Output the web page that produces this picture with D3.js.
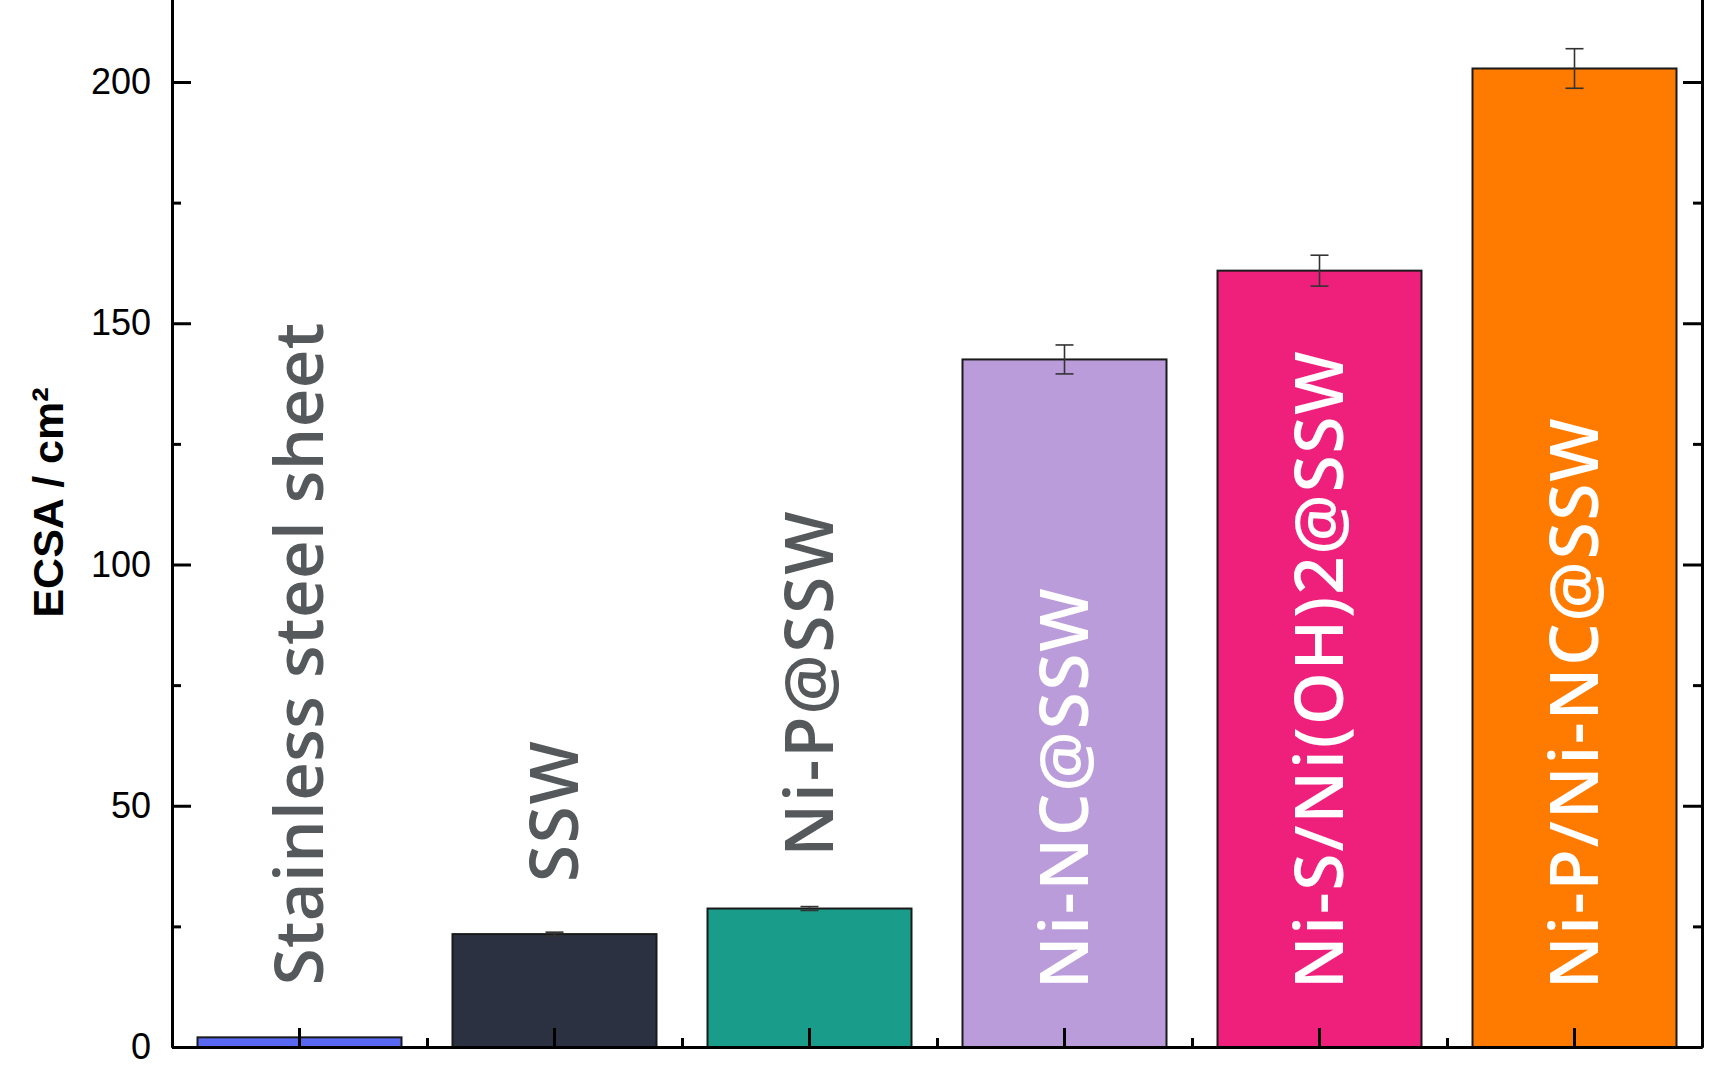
<!DOCTYPE html>
<html>
<head>
<meta charset="utf-8">
<script src="https://cdn.jsdelivr.net/npm/d3@7"></script>
<style>
  html, body { margin: 0; padding: 0; background: #fff; }
  svg { display: block; }
</style>
</head>
<body>
<svg id="chart" width="1736" height="1080"></svg>
<script>
// ---- data ----
const categories = ["Stainless steel sheet", "SSW", "Ni-P@SSW", "Ni-NC@SSW", "Ni-S/Ni(OH)2@SSW", "Ni-P/Ni-NC@SSW"];
const ecsaValues = [2.0, 23.4, 28.7, 142.5, 160.9, 202.8];
const ecsaErrors = [0, 0.4, 0.4, 3.0, 3.2, 4.1];
const barColors = ["#5868f2", "#2c3142", "#1a9c8a", "#bb9cdb", "#ef207b", "#ff7b00"];
const yMajorTicks = [0, 50, 100, 150, 200];
const yMinorTicks = [25, 75, 125, 175];
const yTitle = "ECSA / cm²";

// ---- layout ----
const W = 1736, H = 1080;
const left = 172, right = 1702, bottom = 1047;
const pxPerUnit = 4.825;
const yMax = 220;

const svg = d3.select("#chart");

const x = d3.scaleBand().domain(categories).range([left, right]).paddingInner(0.2).paddingOuter(0.1);
const y = d3.scaleLinear().domain([0, yMax]).range([bottom, bottom - yMax * pxPerUnit]);
const xEdge = d3.scaleLinear().domain([0, categories.length]).range([left, right]);

// bars
svg.append("g").selectAll("rect").data(categories).join("rect")
  .attr("x", d => x(d))
  .attr("width", x.bandwidth())
  .attr("y", (d, i) => y(ecsaValues[i]))
  .attr("height", (d, i) => y(0) - y(ecsaValues[i]))
  .attr("fill", (d, i) => barColors[i])
  .attr("stroke", "#1a1a1a")
  .attr("stroke-width", 2);

// error bars
const eb = svg.append("g").attr("stroke", "#333").attr("stroke-width", 1.6).attr("fill", "none");
categories.forEach((c, i) => {
  const e = ecsaErrors[i];
  if (!e) return;
  const cx = x(c) + x.bandwidth() / 2;
  const capW = 9;
  eb.append("line").attr("x1", cx).attr("x2", cx).attr("y1", y(ecsaValues[i] - e)).attr("y2", y(ecsaValues[i] + e));
  eb.append("line").attr("x1", cx - capW).attr("x2", cx + capW).attr("y1", y(ecsaValues[i] - e)).attr("y2", y(ecsaValues[i] - e));
  eb.append("line").attr("x1", cx - capW).attr("x2", cx + capW).attr("y1", y(ecsaValues[i] + e)).attr("y2", y(ecsaValues[i] + e));
});

// axes
const axisStyle = g => {
  g.selectAll(".domain").attr("stroke", "#000").attr("stroke-width", 3);
  g.selectAll(".tick line").attr("stroke", "#000").attr("stroke-width", 3);
  g.selectAll(".tick text").attr("fill", "#000").attr("font-family", "'Liberation Sans', Arial, sans-serif").attr("font-size", 36);
};

// left axis
svg.append("g").attr("transform", `translate(${left},0)`)
  .call(d3.axisLeft(y).tickValues(yMajorTicks).tickSize(-19).tickSizeOuter(0).tickPadding(21).tickFormat(d3.format("d")))
  .call(axisStyle);
svg.append("g").attr("transform", `translate(${left},0)`)
  .call(d3.axisLeft(y).tickValues(yMinorTicks).tickSize(-9).tickSizeOuter(0).tickFormat(""))
  .call(axisStyle);

// right axis
svg.append("g").attr("transform", `translate(${right},0)`)
  .call(d3.axisRight(y).tickValues(yMajorTicks).tickSize(-19).tickSizeOuter(0).tickFormat(""))
  .call(axisStyle);
svg.append("g").attr("transform", `translate(${right},0)`)
  .call(d3.axisRight(y).tickValues(yMinorTicks).tickSize(-9).tickSizeOuter(0).tickFormat(""))
  .call(axisStyle);

// bottom axis
svg.append("g").attr("transform", `translate(0,${bottom})`)
  .call(d3.axisBottom(x).tickSize(-19).tickSizeOuter(0).tickFormat(""))
  .call(axisStyle);
svg.append("g").attr("transform", `translate(0,${bottom})`)
  .call(d3.axisBottom(xEdge).tickValues(d3.range(1, categories.length)).tickSize(-9).tickSizeOuter(0).tickFormat(""))
  .call(axisStyle);

// y title
svg.append("text")
  .attr("transform", `translate(63,${(393 + 612) / 2}) rotate(-90)`)
  .attr("text-anchor", "middle")
  .attr("font-family", "'Liberation Sans', Arial, sans-serif")
  .attr("font-weight", "bold")
  .attr("font-size", 43)
  .attr("fill", "#000")
  .text(yTitle);

// bar labels (rotated)
const labelSize = 67;
const capH = labelSize * 0.714;
const upperRatio = s => (s.match(/[A-Z]/g) || []).length / s.replace(/\s/g, "").length;
svg.append("g").selectAll("text").data(categories).join("text")
  .attr("transform", (d, i) => {
    const v = ecsaValues[i];
    const inside = v > 100;
    const y0 = inside ? y(12) : Math.min(y(12), y(v) - 52);
    const cx = x(d) + x.bandwidth() / 2 + capH / 2;
    return `translate(${cx},${y0}) rotate(-90)`;
  })
  .attr("text-anchor", "start")
  .attr("font-family", "'Open Sans', 'Noto Sans', sans-serif")
  .attr("font-weight", 600)
  .attr("font-size", labelSize)
  .attr("letter-spacing", d => upperRatio(d) < 0.3 ? 0.4 : 2)
  .attr("fill", (d, i) => ecsaValues[i] > 100 ? "#ffffff" : "#55595c")
  .text(d => d);
</script>
</body>
</html>
